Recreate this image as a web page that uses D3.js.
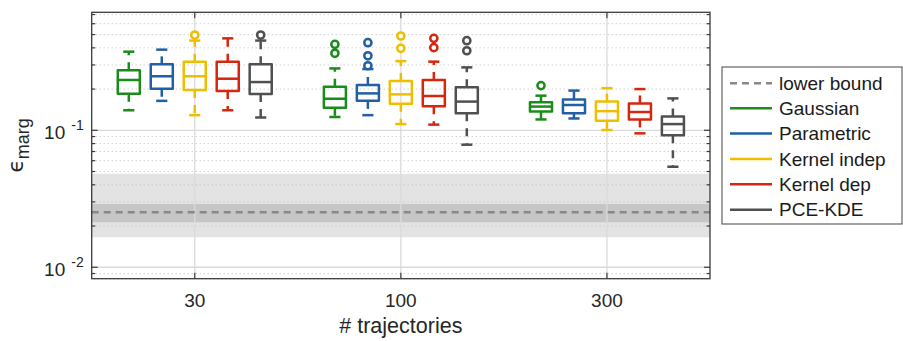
<!DOCTYPE html>
<html>
<head>
<meta charset="utf-8">
<script src="https://cdn.jsdelivr.net/npm/d3@7"></script>
<style>
  html, body { margin: 0; padding: 0; background: #fff; }
  svg { display: block; font-family: "Liberation Sans", Arial, Helvetica, sans-serif; }
</style>
</head>
<body>
<svg id="chart" width="903" height="341"></svg>
<script>
// ---------------- data ----------------
const groups = ["30", "100", "300"];
const methods = ["Gaussian", "Parametric", "Kernel indep", "Kernel dep", "PCE-KDE"];
const colors = ["#198c19", "#235fa3", "#edbf00", "#d5260f", "#505050"];

// rows: groups (30, 100, 300); columns: methods
const whiskerLow = [
  [0.140, 0.164, 0.129, 0.140, 0.124],
  [0.125, 0.129, 0.111, 0.110, 0.0785],
  [0.120, 0.122, 0.1005, 0.095, 0.0542]
];
const q1 = [
  [0.185, 0.201, 0.197, 0.194, 0.184],
  [0.146, 0.164, 0.156, 0.150, 0.133],
  [0.137, 0.133, 0.1175, 0.120, 0.092]
];
const median = [
  [0.233, 0.248, 0.248, 0.238, 0.225],
  [0.170, 0.186, 0.183, 0.178, 0.162],
  [0.149, 0.153, 0.138, 0.136, 0.111]
];
const q3 = [
  [0.274, 0.303, 0.317, 0.317, 0.303],
  [0.208, 0.214, 0.229, 0.233, 0.206],
  [0.160, 0.168, 0.162, 0.157, 0.126]
];
const whiskerHigh = [
  [0.375, 0.388, 0.452, 0.469, 0.452],
  [0.283, 0.280, 0.320, 0.317, 0.288],
  [0.179, 0.195, 0.203, 0.200, 0.171]
];
const outliers = [
  [[], [], [0.496], [], [0.496]],
  [[0.424, 0.365], [0.436, 0.350, 0.296], [0.488, 0.397], [0.469, 0.401], [0.451, 0.381]],
  [[0.212], [], [], [], []]
];

const lowerBound = 0.0252;
const bandInner = [0.0213, 0.029];
const bandOuter = [0.01656, 0.0482];

const yMajorTicks = [0.01, 0.1];
const yMinorTicks = [0.009, 0.02, 0.03, 0.04, 0.05, 0.06, 0.07, 0.08, 0.09,
                     0.2, 0.3, 0.4, 0.5, 0.6, 0.7];
const yTickExponents = ["-2", "-1"];

// ---------------- layout ----------------
const L = 91.7, R = 710, T = 12.3, B = 278.7;
const svg = d3.select("#chart");

const x = d3.scaleLinear().domain([0.5, 3.5]).range([L, R]);
const y = d3.scaleLog().domain([0.00825, 0.727]).range([B, T]);
const step = 0.16;       // method offset in group units
const boxW = 0.107;      // box width in group units
const capW = 0.054;

svg.append("rect").attr("width", 903).attr("height", 341).attr("fill", "#fff");

const plot = svg.append("g");

// bands
plot.append("rect")
  .attr("x", L).attr("width", R - L)
  .attr("y", y(bandOuter[1])).attr("height", y(bandOuter[0]) - y(bandOuter[1]))
  .attr("fill", "#e3e3e3");
plot.append("rect")
  .attr("x", L).attr("width", R - L)
  .attr("y", y(bandInner[1])).attr("height", y(bandInner[0]) - y(bandInner[1]))
  .attr("fill", "#c6c6c6");

// grid
plot.selectAll(".ymin").data(yMinorTicks).join("line")
  .attr("x1", L).attr("x2", R)
  .attr("y1", d => y(d)).attr("y2", d => y(d))
  .attr("stroke", "#bdbdbd").attr("stroke-width", 1)
  .attr("stroke-dasharray", "1,3");
plot.selectAll(".ymaj").data(yMajorTicks).join("line")
  .attr("x1", L).attr("x2", R)
  .attr("y1", d => y(d)).attr("y2", d => y(d))
  .attr("stroke", "#dadada").attr("stroke-width", 1.3);
plot.selectAll(".xmaj").data(groups).join("line")
  .attr("x1", (d, i) => x(i + 1)).attr("x2", (d, i) => x(i + 1))
  .attr("y1", T).attr("y2", B)
  .attr("stroke", "#dadada").attr("stroke-width", 1.3);

// lower bound dashed line
plot.append("line")
  .attr("x1", L).attr("x2", R)
  .attr("y1", y(lowerBound)).attr("y2", y(lowerBound))
  .attr("stroke", "#888").attr("stroke-width", 2.6)
  .attr("stroke-dasharray", "7,5");

// boxes
groups.forEach((g, gi) => {
  methods.forEach((m, mi) => {
    const cx = x(gi + 1 + (mi - 2) * step);
    const col = colors[mi];
    const hw = (x(boxW) - x(0)) / 2;
    const cw = (x(capW) - x(0)) / 2;
    const bg = plot.append("g").attr("stroke", col).attr("fill", "none").attr("stroke-width", 2.5);
    // whiskers (dashed, drawn from box outward)
    bg.append("line").attr("x1", cx).attr("x2", cx)
      .attr("y1", y(q3[gi][mi])).attr("y2", y(whiskerHigh[gi][mi]))
      .attr("stroke-dasharray", "8,7");
    bg.append("line").attr("x1", cx).attr("x2", cx)
      .attr("y1", y(q1[gi][mi])).attr("y2", y(whiskerLow[gi][mi]))
      .attr("stroke-dasharray", "8,7");
    // caps
    [whiskerHigh[gi][mi], whiskerLow[gi][mi]].forEach(v => {
      bg.append("line").attr("x1", cx - cw).attr("x2", cx + cw)
        .attr("y1", y(v)).attr("y2", y(v));
    });
    // box
    bg.append("rect")
      .attr("x", cx - hw).attr("width", 2 * hw)
      .attr("y", y(q3[gi][mi])).attr("height", y(q1[gi][mi]) - y(q3[gi][mi]))
      .attr("stroke-linejoin", "round");
    // median
    bg.append("line").attr("x1", cx - hw).attr("x2", cx + hw)
      .attr("y1", y(median[gi][mi])).attr("y2", y(median[gi][mi]));
    // outliers
    outliers[gi][mi].forEach(v => {
      bg.append("circle").attr("cx", cx).attr("cy", y(v)).attr("r", 3.6)
        .attr("fill", "#fff");
    });
  });
});

// axes box
const axCol = "#3a3a3a";
svg.append("rect").attr("x", L).attr("y", T).attr("width", R - L).attr("height", B - T)
  .attr("fill", "none").attr("stroke", axCol).attr("stroke-width", 1.3);

// ticks (inward)
const tickG = svg.append("g").attr("stroke", axCol).attr("stroke-width", 1.2);
yMajorTicks.forEach(v => {
  tickG.append("line").attr("x1", L).attr("x2", L + 6).attr("y1", y(v)).attr("y2", y(v));
  tickG.append("line").attr("x1", R).attr("x2", R - 6).attr("y1", y(v)).attr("y2", y(v));
});
yMinorTicks.forEach(v => {
  tickG.append("line").attr("x1", L).attr("x2", L + 3.5).attr("y1", y(v)).attr("y2", y(v));
  tickG.append("line").attr("x1", R).attr("x2", R - 3.5).attr("y1", y(v)).attr("y2", y(v));
});
groups.forEach((g, i) => {
  tickG.append("line").attr("x1", x(i + 1)).attr("x2", x(i + 1)).attr("y1", B).attr("y2", B - 6);
  tickG.append("line").attr("x1", x(i + 1)).attr("x2", x(i + 1)).attr("y1", T).attr("y2", T + 6);
});

// y tick labels
const txtCol = "#262626";
yMajorTicks.forEach((v, i) => {
  const t = svg.append("text").attr("x", L - 8).attr("y", y(v) + 9)
    .attr("text-anchor", "end").attr("fill", txtCol).attr("font-size", 19);
  t.append("tspan").text("10");
  t.append("tspan").attr("dx", 6).attr("dy", -9).attr("font-size", 14).text(yTickExponents[i]);
});

// x tick labels
svg.selectAll(".xl").data(groups).join("text")
  .attr("x", (d, i) => x(i + 1)).attr("y", 307)
  .attr("text-anchor", "middle").attr("fill", txtCol).attr("font-size", 19)
  .text(d => d);

// x label
svg.append("text").attr("x", (L + R) / 2).attr("y", 333)
  .attr("text-anchor", "middle").attr("fill", txtCol).attr("font-size", 21.5)
  .text("# trajectories");

// y label
const yl = svg.append("text")
  .attr("transform", `translate(23,${(T + B) / 2}) rotate(-90)`)
  .attr("text-anchor", "middle").attr("fill", txtCol).attr("font-size", 22)
  .attr("font-family", "'DejaVu Sans', sans-serif");
yl.append("tspan").text("\u03F5");
yl.append("tspan").attr("dy", 6).attr("font-size", 18)
  .attr("font-family", "'Liberation Sans', Arial, sans-serif").text("marg");

// legend
const lg = svg.append("g");
lg.append("rect").attr("x", 722).attr("y", 67).attr("width", 180).attr("height", 157)
  .attr("fill", "#fff").attr("stroke", "#444").attr("stroke-width", 1);
const legendLabels = ["lower bound"].concat(methods);
const legendColors = ["#888"].concat(colors);
const legendY = [83.3, 108.3, 133.5, 159, 184.3, 209.7];
legendLabels.forEach((lab, i) => {
  lg.append("line").attr("x1", 730).attr("x2", 772)
    .attr("y1", legendY[i]).attr("y2", legendY[i])
    .attr("stroke", legendColors[i]).attr("stroke-width", 2.5)
    .attr("stroke-dasharray", i === 0 ? "7,5" : null);
  lg.append("text").attr("x", 779).attr("y", legendY[i] + 6.5)
    .attr("fill", "#1a1a1a").attr("font-size", 19).text(lab);
});
</script>
</body>
</html>
